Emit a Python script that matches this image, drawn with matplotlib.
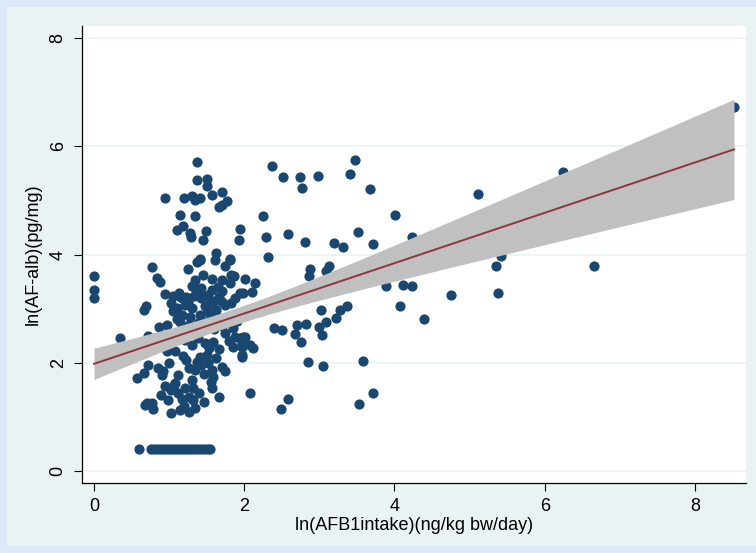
import numpy as np
import matplotlib.pyplot as plt
from matplotlib.patches import Rectangle

plt.rcParams['font.family'] = ['Liberation Sans', 'DejaVu Sans']

# ln(AFB1 intake) vs ln(AF-alb), one entry per subject
afb1 = [
    # zero intake
    0.00, 0.00, 0.00, 0.35,
    # detection-limit row
    0.60, 0.76, 0.80, 0.84, 0.88, 0.92, 0.96, 1.00, 1.04, 1.08, 1.12,
    1.16, 1.20, 1.24, 1.28, 1.32, 1.36, 1.40, 1.44, 1.48, 1.52, 1.55,
    # high adduct cluster
    1.37, 1.37, 1.51, 1.50, 0.95, 1.20, 1.31, 1.34, 1.41, 1.57, 1.71,
    1.66, 1.70, 1.77, 1.15, 1.34, 1.11, 1.19, 1.28, 1.29, 1.49, 1.45,
    1.94, 1.93, 1.41, 1.62, 1.81,
    # 3.4 - 4.0
    0.77, 0.84, 0.88, 1.25, 1.37, 1.41, 1.61, 1.75, 1.81, 1.86, 2.01,
    2.14, 1.34, 1.57, 1.70, 1.81, 1.30, 1.83, 1.45,
    # 3.0 - 3.4
    1.05, 1.13, 1.23, 1.33, 1.45, 1.52, 1.67, 1.17, 1.03, 1.35, 1.43,
    1.57, 1.70, 1.94, 1.21, 1.30, 1.43, 1.54, 1.70, 1.88, 2.10, 0.69,
    0.66, 1.74, 1.63, 1.13, 0.95, 1.60, 1.25, 1.48, 1.38, 1.65, 1.10,
    1.82,
    # 2.6 - 3.0
    1.17, 1.28, 1.41, 1.52, 1.15, 1.26, 1.39, 1.48, 1.57, 1.66, 0.87,
    0.97, 1.05, 1.78, 1.90, 1.22, 1.60, 1.33, 1.45, 1.70, 1.10, 1.55,
    1.85,
    # 2.2 - 2.6
    1.74, 1.88, 2.01, 1.97, 2.08, 1.21, 1.30, 1.39, 1.48, 1.59, 0.97,
    1.08, 0.72, 1.12, 1.85, 1.66, 1.94, 2.12, 1.35, 1.53, 1.80,
    # 1.6 - 2.2
    0.72, 0.66, 0.57, 0.92, 0.90, 1.12, 1.26, 1.35, 1.43, 1.52, 1.57,
    1.59, 1.56, 1.70, 1.74, 1.37, 1.41, 1.97, 1.50, 1.22, 1.00, 1.18,
    1.30, 1.62, 0.85, 1.47, 1.08,
    # 1.0 - 1.6
    1.06, 1.03, 1.12, 1.21, 1.32, 1.17, 1.26, 1.32, 0.89, 0.70, 0.77,
    0.79, 1.03, 1.15, 1.26, 1.35, 1.46, 1.66, 2.08, 1.57, 0.68, 0.95,
    1.40, 1.20, 0.98,
    # higher intake
    2.37, 2.51, 2.74, 2.77, 2.98, 3.47, 3.41, 3.68, 2.25, 4.01, 2.29,
    2.58, 2.81, 3.19, 3.31, 3.52, 3.72, 4.24, 2.32, 2.87, 2.86, 3.09,
    3.13, 1.98, 3.89, 4.11, 4.24, 3.02, 3.28, 3.37, 4.07, 3.22, 3.09,
    3.00, 3.03, 2.70, 2.82, 2.68, 2.75, 2.39, 2.50, 4.39, 2.85, 3.05,
    3.58, 2.58, 2.49, 3.53, 3.71, 1.99, 1.97, 1.97, 5.11, 6.24, 5.42,
    5.35, 6.66, 4.75, 5.38, 8.52,
]
af_alb = [
    3.60, 3.35, 3.19, 2.46,
    0.41, 0.41, 0.41, 0.41, 0.41, 0.41, 0.41, 0.41, 0.41, 0.41, 0.41,
    0.41, 0.41, 0.41, 0.41, 0.41, 0.41, 0.41, 0.41, 0.41, 0.41, 0.41,
    5.70, 5.38, 5.40, 5.26, 5.05, 5.04, 5.08, 5.01, 5.05, 5.09, 5.16,
    4.87, 4.92, 4.98, 4.73, 4.71, 4.45, 4.52, 4.39, 4.33, 4.44, 4.27,
    4.47, 4.26, 3.91, 4.02, 3.91,
    3.76, 3.56, 3.49, 3.73, 3.87, 3.90, 3.89, 3.78, 3.89, 3.61, 3.55,
    3.48, 3.53, 3.55, 3.53, 3.47, 3.41, 3.63, 3.62,
    3.23, 3.23, 3.22, 3.24, 3.23, 3.25, 3.22, 3.19, 3.10, 3.38, 3.38,
    3.35, 3.32, 3.28, 3.07, 3.01, 3.19, 3.10, 3.13, 3.19, 3.31, 3.04,
    2.98, 3.07, 2.97, 3.28, 3.27, 3.15, 3.12, 3.05, 3.30, 3.40, 3.02,
    3.10,
    2.88, 2.85, 2.88, 2.94, 2.76, 2.70, 2.73, 2.76, 2.76, 2.82, 2.67,
    2.70, 2.95, 2.85, 2.78, 2.62, 2.62, 2.60, 2.65, 2.68, 2.80, 2.90,
    2.65,
    2.55, 2.48, 2.48, 2.36, 2.33, 2.42, 2.33, 2.45, 2.36, 2.39, 2.21,
    2.21, 2.49, 2.50, 2.30, 2.25, 2.45, 2.27, 2.52, 2.28, 2.40,
    1.96, 1.81, 1.71, 1.84, 1.77, 1.77, 1.90, 1.87, 1.96, 1.99, 1.87,
    1.74, 1.65, 1.93, 1.84, 2.02, 2.11, 2.11, 2.15, 2.05, 2.00, 2.12,
    1.68, 2.08, 1.90, 1.80, 1.62,
    1.59, 1.50, 1.44, 1.53, 1.53, 1.34, 1.37, 1.31, 1.40, 1.25, 1.26,
    1.14, 1.08, 1.13, 1.10, 1.16, 1.28, 1.36, 1.44, 1.53, 1.22, 1.58,
    1.45, 1.20, 1.32,
    5.64, 5.44, 5.44, 5.22, 5.45, 5.75, 5.48, 5.21, 4.71, 4.73, 4.33,
    4.38, 4.23, 4.21, 4.13, 4.41, 4.20, 4.32, 3.96, 3.73, 3.60, 3.70,
    3.79, 3.29, 3.42, 3.44, 3.41, 2.97, 2.97, 3.05, 3.04, 2.82, 2.75,
    2.67, 2.51, 2.70, 2.72, 2.53, 2.38, 2.64, 2.61, 2.81, 2.02, 1.95,
    2.04, 1.34, 1.14, 1.23, 1.44, 2.47, 2.30, 2.14, 5.11, 5.52, 3.97,
    3.78, 3.79, 3.26, 3.28, 6.72,
]

x_ticks = [0, 2, 4, 6, 8]
y_ticks = [0, 2, 4, 6, 8]
x_title = 'ln(AFB1intake)(ng/kg bw/day)'
y_title = 'ln(AF-alb)(pg/mg)'

x = np.array(afb1)
y = np.array(af_alb)

# linear fit with 95% CI of the prediction mean
n = len(x)
b, a = np.polyfit(x, y, 1)
resid = y - (a + b * x)
s = np.sqrt(np.sum(resid ** 2) / (n - 2))
sxx = np.sum((x - x.mean()) ** 2)
xf = np.linspace(x.min(), x.max(), 100)
yf = a + b * xf
se = s * np.sqrt(1.0 / n + (xf - x.mean()) ** 2 / sxx)
t = 1.97

fig = plt.figure(figsize=(7.56, 5.53), dpi=100, facecolor='#dde9f8')
fig.patches.append(Rectangle((7 / 756, 7 / 553), 1 - 7 / 756, 1 - 14 / 553,
                             transform=fig.transFigure, facecolor='#eaf2f3',
                             edgecolor='none', zorder=-10))
ax = fig.add_axes([82 / 756, 1 - 483 / 553, (746 - 82) / 756, (483 - 26) / 553])
ax.set_facecolor('white')

ax.scatter(x, y, s=54, color='#1a476f', linewidths=0, zorder=2)
ax.fill_between(xf, yf - t * se, yf + t * se, color='#c0c0c0', linewidth=0, zorder=3)
ax.plot(xf, yf, color='#90353b', linewidth=1.4, zorder=4)

ax.set_xlim(-0.16, 8.68)
ax.set_ylim(-0.22, 8.22)
ax.set_xticks(x_ticks)
ax.set_yticks(y_ticks)
ax.grid(axis='y', color='#eaf2f3', linewidth=1.2)
ax.set_axisbelow(True)
for side in ('top', 'right'):
    ax.spines[side].set_visible(False)
for side in ('left', 'bottom'):
    ax.spines[side].set_linewidth(0.9)
ax.tick_params(axis='both', direction='out', length=6, width=0.8, labelsize=13, pad=5)
plt.setp(ax.get_yticklabels(), rotation=90, va='center')
ax.set_xlabel(x_title, fontsize=13, labelpad=1)
ax.set_ylabel(y_title, fontsize=13, labelpad=6)

fig.savefig('out.png', dpi=100, facecolor=fig.get_facecolor())
